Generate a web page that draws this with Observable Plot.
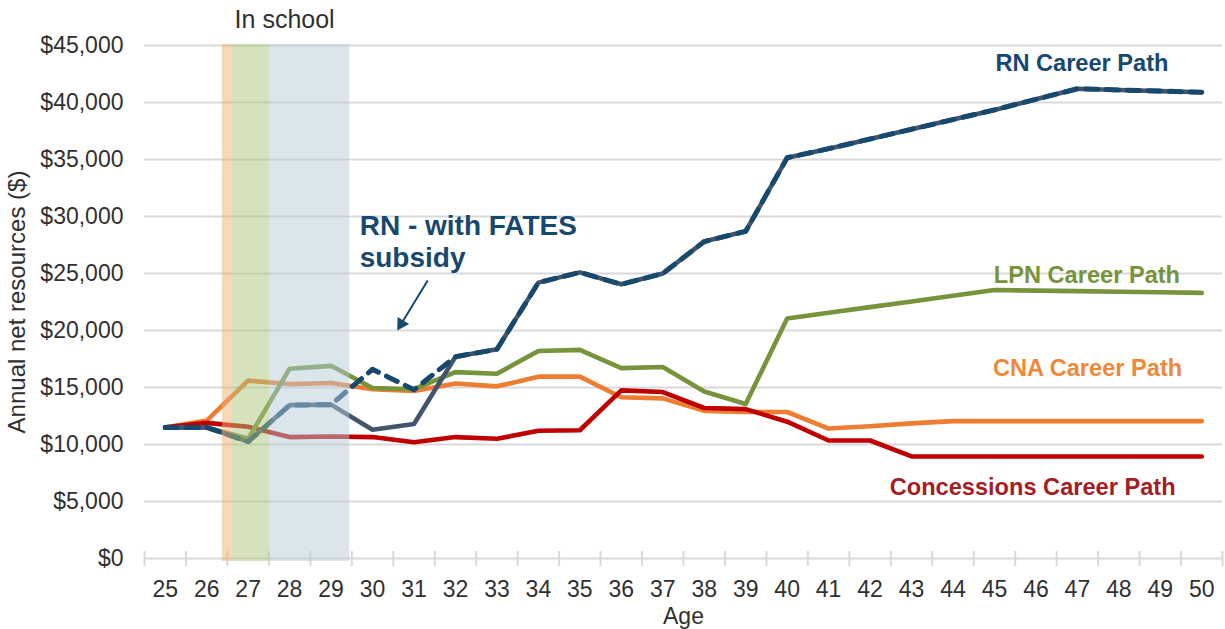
<!DOCTYPE html>
<html>
<head>
<meta charset="utf-8">
<script src="https://cdn.jsdelivr.net/npm/d3@7"></script>
<script src="https://cdn.jsdelivr.net/npm/@observablehq/plot@0.6"></script>
<style>
  html, body { margin: 0; padding: 0; background: #fff; }
  #chart svg { display: block; }
</style>
</head>
<body>
<div id="chart"></div>
<script>
// ---- Data ----
const ages = [25,26,27,28,29,30,31,32,33,34,35,36,37,38,39,40,41,42,43,44,45,46,47,48,49,50];
const concessions = [11500,11900,11550,10650,10700,10650,10200,10650,10500,11200,11250,14750,14600,13200,13100,12000,10350,10350,8950,8950,8950,8950,8950,8950,8950,8950];
const cna = [11500,12100,15600,15300,15400,14850,14700,15350,15100,15950,15950,14150,14050,12950,12850,12850,11400,11600,11850,12050,12050,12050,12050,12050,12050,12050];
const lpn = [11500,11500,10500,16650,16900,14950,14850,16350,16200,18200,18300,16700,16800,14650,13550,21050,21550,22050,22550,23050,23550,23500,23450,23400,23350,23300];
const rn = [11500,11500,10250,13450,13500,11300,11800,17700,18350,24200,25100,24050,25000,27800,28700,35150,35950,36800,37650,38500,39350,40280,41200,41100,41000,40900];
const rnFates = [11500,11500,10250,13450,13500,16600,14800,17700,18350,24200,25100,24050,25000,27800,28700,35150,35950,36800,37650,38500,39350,40280,41200,41100,41000,40900];

const yTicks = [0,5000,10000,15000,20000,25000,30000,35000,40000,45000];
const ageBoundaries = ages.map(a => a - 0.5).concat([50.5]);

// "In school" periods (age start / end) for CNA, LPN, RN training
const schoolPath = ["CNA", "LPN", "RN"];
const schoolStart = [26.38, 26.62, 27.52];
const schoolEnd = [26.62, 27.52, 29.45];

// Series labels (text and the point, in age / $ units, where each sits)
const labelText = ["RN Career Path", "LPN Career Path", "CNA Career Path", "Concessions Career Path"];
const labelAge = [47.11, 47.23, 47.245, 45.92];
const labelValue = [42750, 24210, 15990, 5590];

const noteText = "RN - with FATES\nsubsidy";
const noteAge = 29.69;
const noteValue = 25550;
const arrowFrom = {age: 31.33, value: 24386};
const arrowTo = {age: 30.694, value: 20588};

// ---- Styles ----
const lineColor = {Concessions: "#C00000", CNA: "#ED7D31", LPN: "#77933C", RN: "#44546A", FATES: "#17486E"};
const labelColor = ["#17486E", "#77933C", "#F0883A", "#A51C24"];
const bandColor = {CNA: "rgb(241,175,115)", LPN: "rgb(173,195,125)", RN: "rgb(181,203,217)"};
const grid = "#d9d9d9";
const textColor = "#303030";
const font = "'Liberation Sans', Arial, Helvetica, sans-serif";

const lineOpts = (vals, color, extra = {}) => Plot.line(ages, {
  x: d => d, y: vals, stroke: color, strokeWidth: 4.6,
  strokeLinejoin: "round", strokeLinecap: "round", ...extra
});

const chart = Plot.plot({
  width: 1225,
  height: 629,
  marginLeft: 144,
  marginRight: 3,
  marginTop: 45,
  marginBottom: 71,
  style: {fontFamily: font, fontSize: "23px", color: textColor, background: "#fff", overflow: "visible"},
  x: {domain: [24.5, 50.5]},
  y: {domain: [0, 45000]},
  marks: [
    Plot.gridY(yTicks, {stroke: grid, strokeOpacity: 1, strokeWidth: 2}),
    Plot.ruleX(ageBoundaries, {x: d => d, y1: 0, y2: 0, insetTop: -7, insetBottom: -8, stroke: grid, strokeWidth: 2}),
    Plot.axisY(yTicks, {tickSize: 0, tickPadding: 21, fontSize: 23, color: textColor,
      tickFormat: d => "$" + d3.format(",")(d), label: null}),
    Plot.axisX(ages, {tickSize: 0, tickPadding: 22, fontSize: 23, color: textColor,
      tickFormat: d => String(d), label: null}),
    lineOpts(cna, lineColor.CNA),
    lineOpts(concessions, lineColor.Concessions),
    lineOpts(lpn, lineColor.LPN),
    lineOpts(rn, lineColor.RN),
    lineOpts(rnFates, lineColor.FATES, {strokeWidth: 5, strokeDasharray: "12,9"}),
    Plot.rect(schoolPath, {
      x1: (d, i) => schoolStart[i], x2: (d, i) => schoolEnd[i], y1: 0, y2: 45000,
      fill: d => bandColor[d], fillOpacity: 0.5, insetTop: -1, insetBottom: -3
    }),
    Plot.text(["In school"], {x: [27.88], text: d => d, frameAnchor: "top", dy: -17.7,
      lineAnchor: "bottom", textAnchor: "middle", fontSize: 25, fill: textColor}),
    Plot.text(["Age"], {text: d => d, frameAnchor: "bottom", dy: 65, lineAnchor: "bottom",
      textAnchor: "middle", fontSize: 23, fill: textColor}),
    Plot.text(["Annual net resources ($)"], {text: d => d, frameAnchor: "left", dx: -127, rotate: -90,
      textAnchor: "middle", lineAnchor: "middle", fontSize: 24, fill: textColor}),
    Plot.text(labelText, {x: labelAge, y: labelValue, text: d => d, textAnchor: "middle",
      lineAnchor: "bottom", fontWeight: "bold", fontSize: 23.6, fill: (d, i) => labelColor[i]}),
    Plot.text([noteText], {x: [noteAge], y: [noteValue], text: d => d, textAnchor: "start",
      lineAnchor: "bottom", lineHeight: 1.14, fontWeight: "bold", fontSize: 28, fill: lineColor.FATES}),
    Plot.link([arrowFrom], {x1: "age", y1: "value", x2: () => arrowTo.age, y2: () => arrowTo.value,
      stroke: lineColor.FATES, strokeWidth: 2}),
    Plot.dot([arrowTo], {x: "age", y: "value", symbol: "triangle", r: 5, rotate: 211.5,
      fill: lineColor.FATES, stroke: "none"})
  ]
});

document.getElementById("chart").appendChild(chart);
</script>
</body>
</html>
